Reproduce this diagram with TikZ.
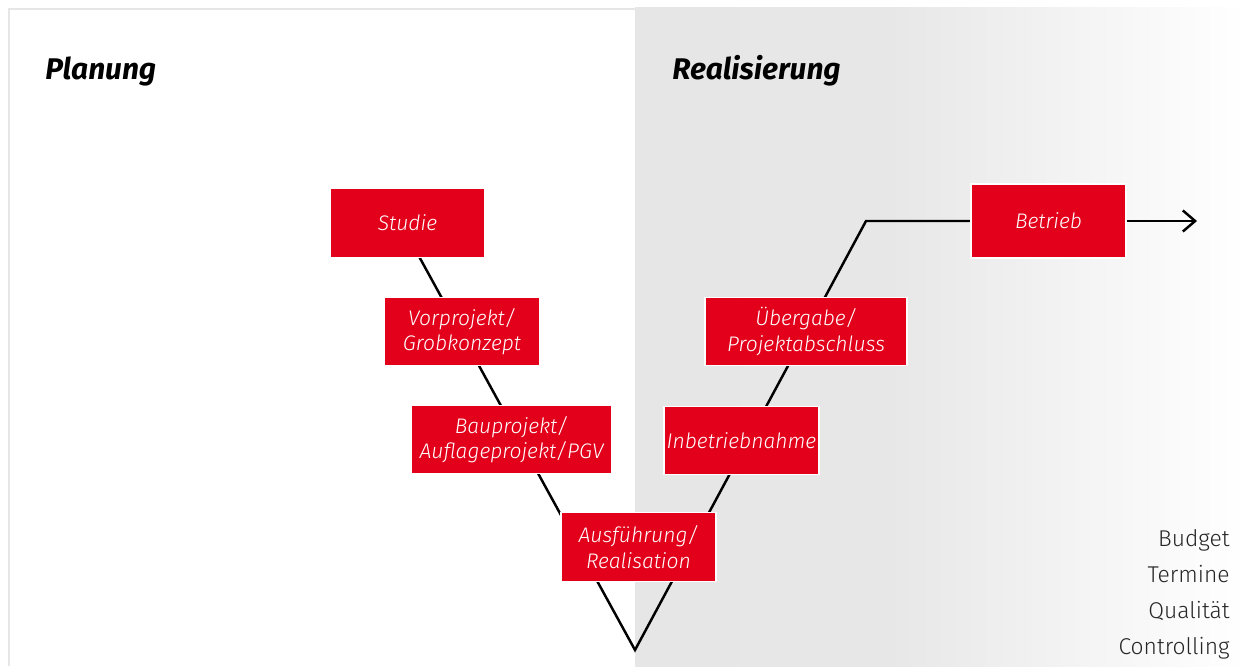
\documentclass[tikz,border=0pt]{standalone}
\usepackage{fontspec}
\setmainfont{Fira Sans Light}
\newfontfamily\titlefont{Fira Sans}
\usetikzlibrary{arrows.meta,backgrounds}

\definecolor{phasered}{HTML}{E2001A}
\definecolor{panelgray}{HTML}{E6E6E6}

\pgfdeclarehorizontalshading{panelfade}{100bp}{color(0bp)=(panelgray); color(25bp)=(panelgray);
  color(46bp)=(panelgray!95!white); color(75bp)=(white); color(100bp)=(white)}

\tikzset{
  phase/.style={fill=phasered, draw=white, line width=0.8pt, text=white,
    font=\fontsize{12}{14.5}\selectfont\itshape, align=center,
    minimum width=3.1cm, minimum height=1.37cm, inner sep=0pt},
  vline/.style={line width=1.4pt, black},
  title/.style={anchor=base west, inner sep=0pt, font=\titlefont\fontsize{17}{20}\selectfont\bfseries\itshape},
}

\begin{document}
\begin{tikzpicture}[x=0.02cm,y=-0.02cm]
    \useasboundingbox (0,0) rectangle (1247,666);

    \node [title] (planung) at (45,79) {Planung};
    \node [title] (realisierung) at (672,79) {Realisierung};

    % V-Modell
    \coordinate (vtop) at (410,240);
    \coordinate (apex) at (635,650);
    \coordinate (knee) at (866,221);
    \coordinate (ende) at (1197,221);

    \node [phase] (studie) at (407.5,223) {Studie};
    \node [phase] (vorprojekt) at (462,331.5) {Vorprojekt/\\Grobkonzept};
    \node [phase, minimum width=4.02cm] (bauprojekt) at (511.5,439.5) {Bauprojekt/\\Auflageprojekt/PGV};
    \node [phase] (ausfuehrung) at (638.5,547) {Ausführung/\\Realisation};
    \node [phase] (inbetrieb) at (741.5,440.5) {Inbetriebnahme};
    \node [phase, minimum width=4.04cm] (uebergabe) at (806,331.5) {Übergabe/\\Projektabschluss};
    \node [phase, minimum height=1.48cm] (betrieb) at (1048.5,221) {Betrieb};

    \draw [vline, -{Straight Barb[length=7pt,width=12pt]}] (betrieb) -- (ende);

    \foreach \t [count=\i] in {Budget,Termine,Qualität,Controlling}
        \node [anchor=base east, inner sep=0pt, text=black!85, font=\fontsize{13}{15}\selectfont] (kpi\i) at (1230,510+36*\i) {\t};

    \begin{scope}[on background layer]
    \fill [white] (0,0) rectangle (1247,666);
    \shade [shading=panelfade] (635,7) rectangle (1247,666);
    \draw [panelgray, line width=1.2pt] (9,666) -- (9,9) -- (635,9);

    \draw [vline] (vtop) -- (apex) -- (knee) -- (betrieb);
    \end{scope}
\end{tikzpicture}
\end{document}
